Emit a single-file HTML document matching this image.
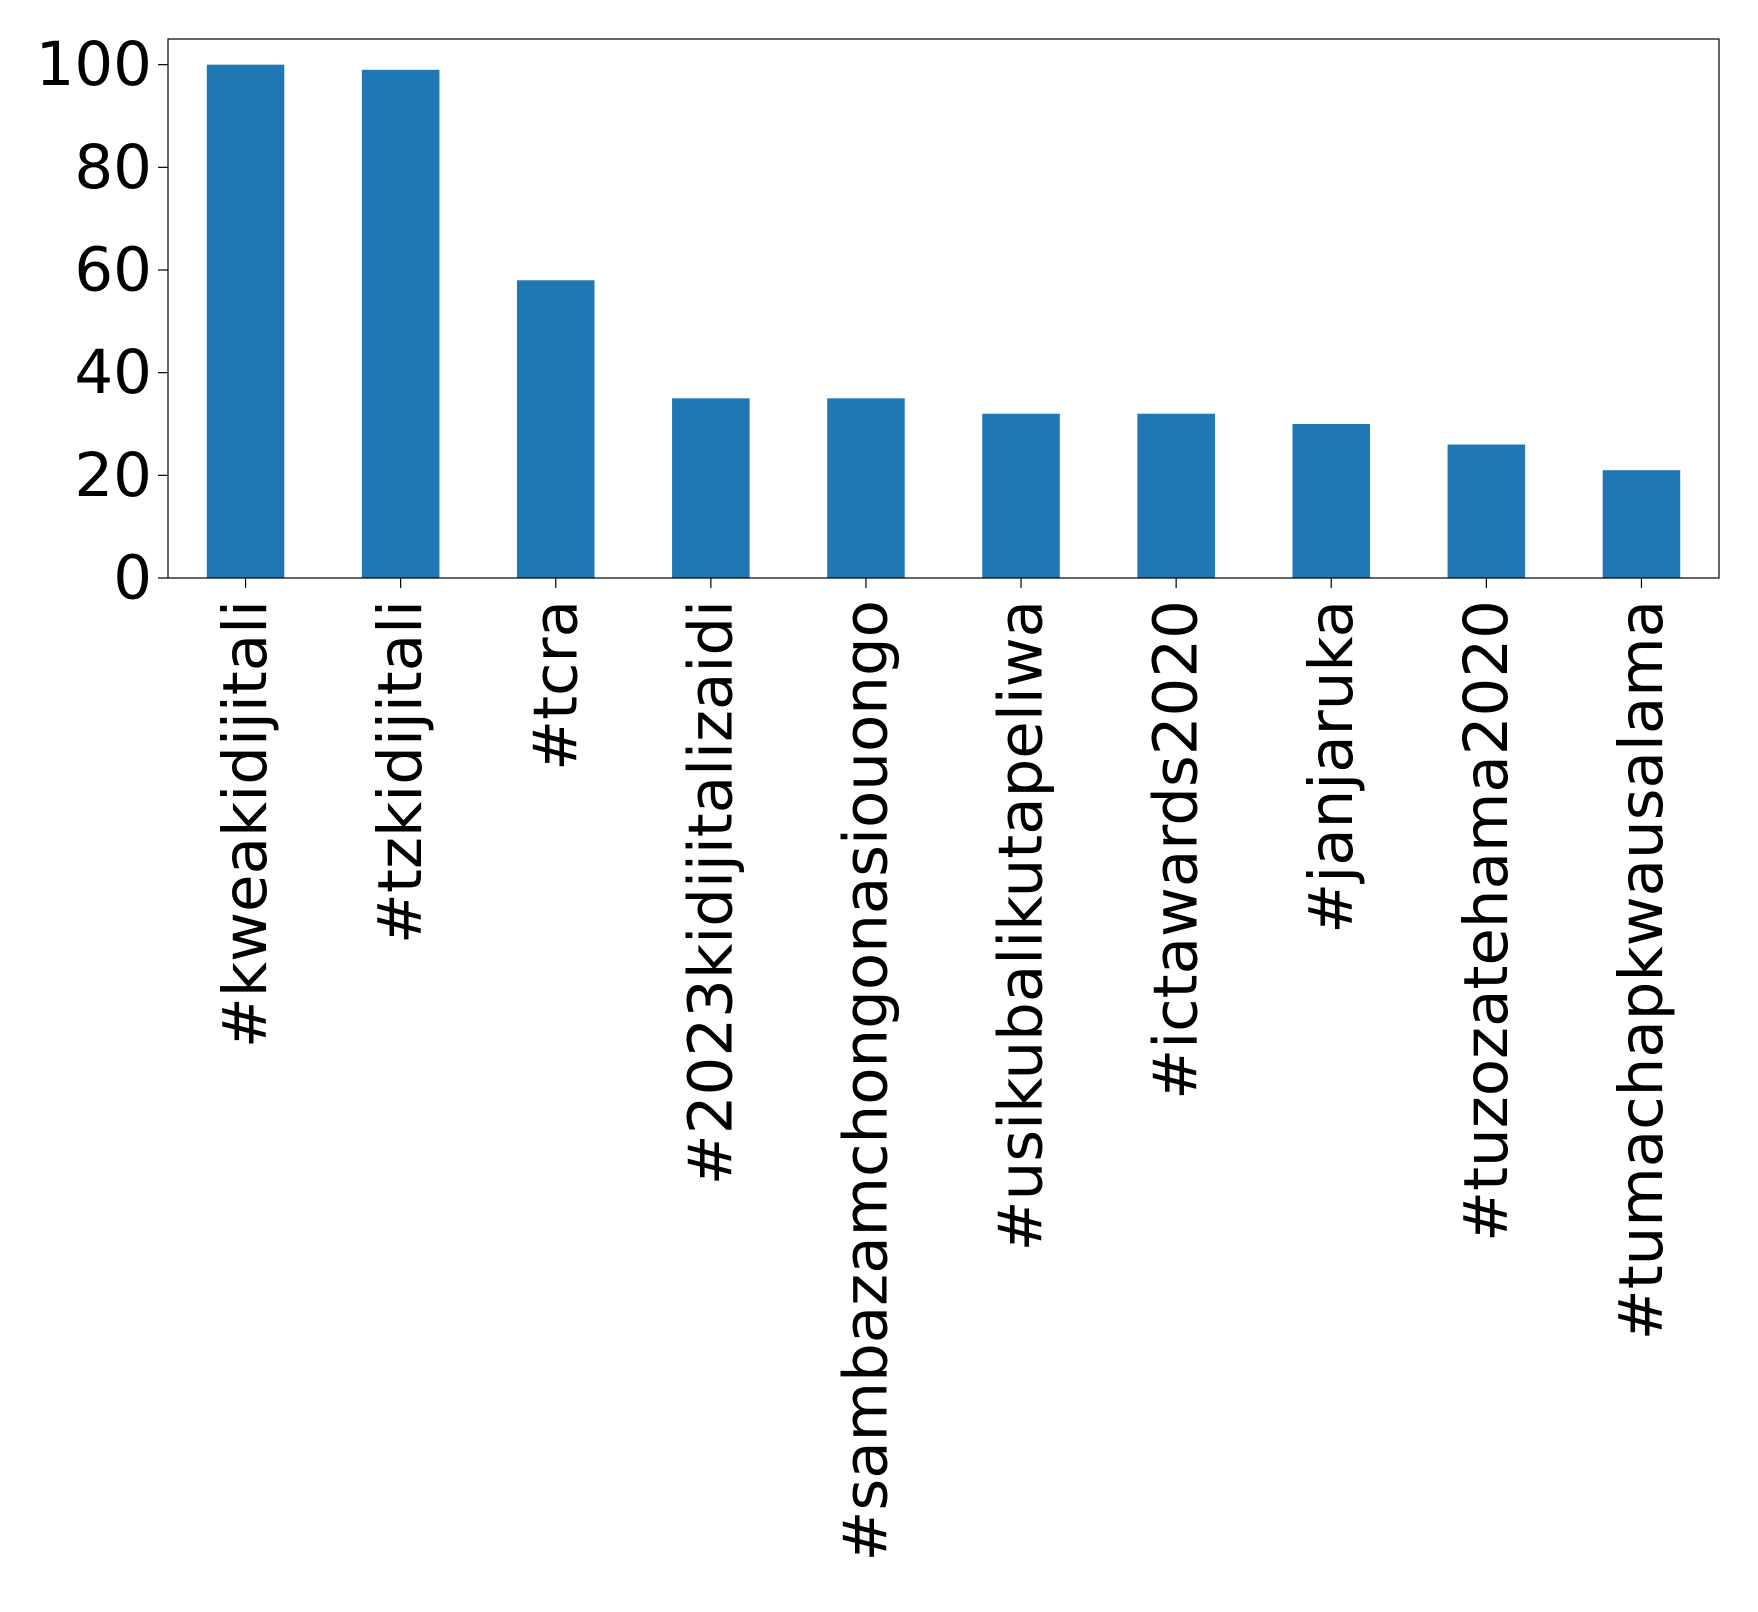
<!DOCTYPE html>
<html><head><meta charset="utf-8"><style>
html,body{margin:0;padding:0;background:#fff;}
svg{display:block;font-family:"DejaVu Sans","Liberation Sans",sans-serif;}
</style></head><body>
<svg id="chart" width="1758" height="1612" viewBox="0 0 1758 1612"></svg>
<script>
const categories = ["#kweakidijitali","#tzkidijitali","#tcra","#2023kidijitalizaidi","#sambazamchongonasiouongo","#usikubalikutapeliwa","#ictawards2020","#janjaruka","#tuzozatehama2020","#tumachapkwausalama"];
const values = [100, 99, 58, 35, 35, 32, 32, 30, 26, 21];
const yTicks = [0, 20, 40, 60, 80, 100];

const NS = "http://www.w3.org/2000/svg";
const svg = document.getElementById("chart");
const L = 168, R = 1719, T = 39, B = 578, yMax = 105;
const band = (R - L) / categories.length;
function x(i) { return L + band * (i + 0.5); }
function y(v) { return B - (v / yMax) * (B - T); }
function mk(tag, attrs) { const e = document.createElementNS(NS, tag); for (const k in attrs) e.setAttribute(k, attrs[k]); svg.appendChild(e); return e; }

values.forEach((v, i) => {
  const r = mk("rect", {x: x(i) - band * 0.25, y: y(v), width: band * 0.5, height: B - y(v), fill: "#1f77b4"});
  
  
});

const frame = mk("rect", {x: L, y: T, width: R - L, height: B - T, fill: "none", stroke: "#000", "stroke-width": 1.2});



yTicks.forEach(t => {
  const tk = mk("line", {x1: L - 10, x2: L, y1: y(t), y2: y(t), stroke: "#000", "stroke-width": 1.2});
  
  
  const tx = mk("text", {x: L - 16, y: y(t), "text-anchor": "end", "dominant-baseline": "central", "font-size": 61, fill: "#000"});
  tx.textContent = t;
  
  
});

categories.forEach((c, i) => {
  const tk = mk("line", {x1: x(i), x2: x(i), y1: B, y2: B + 10, stroke: "#000", "stroke-width": 1.2});
  
  
  const tx = mk("text", {x: 0, y: 0, transform: `translate(${x(i)},${B + 22}) rotate(-90)`, "text-anchor": "end", "dominant-baseline": "central", "font-size": 61, fill: "#000"});
  tx.textContent = c;
  
  
});
</script>
</body></html>
